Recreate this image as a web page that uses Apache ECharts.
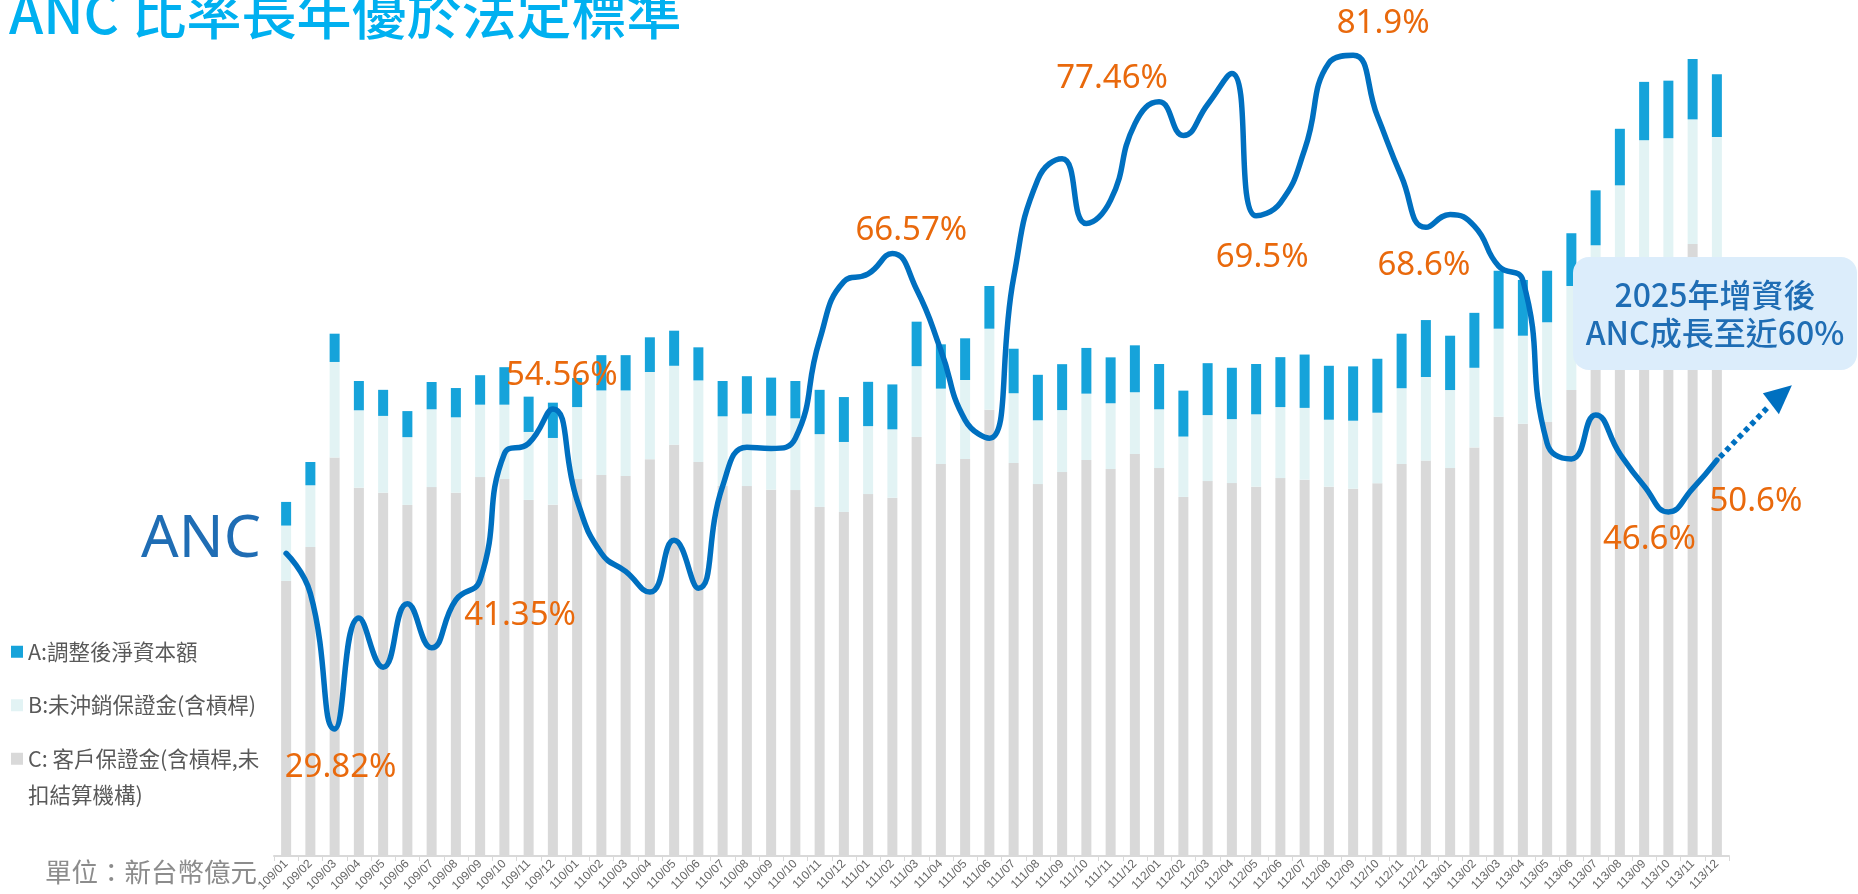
<!DOCTYPE html>
<html>
<head>
<meta charset="utf-8">
<title>ANC 比率長年優於法定標準</title>
<script src="https://cdn.jsdelivr.net/npm/echarts@6/dist/echarts.min.js"></script>
<style>
  html, body { margin: 0; padding: 0; background: #fff; }
  #chart { width: 1858px; height: 894px; }
</style>
</head>
<body>
<div id="chart"></div>
<script>
// 月份 (民國年/月)
var months = [
  '109/01','109/02','109/03','109/04','109/05','109/06','109/07','109/08','109/09','109/10','109/11','109/12',
  '110/01','110/02','110/03','110/04','110/05','110/06','110/07','110/08','110/09','110/10','110/11','110/12',
  '111/01','111/02','111/03','111/04','111/05','111/06','111/07','111/08','111/09','111/10','111/11','111/12',
  '112/01','112/02','112/03','112/04','112/05','112/06','112/07','112/08','112/09','112/10','112/11','112/12',
  '113/01','113/02','113/03','113/04','113/05','113/06','113/07','113/08','113/09','113/10','113/11','113/12'
];

// A:調整後淨資本額 (億元)
var capitalA = [
  11.8, 11.6, 14.1, 14.6, 13.0, 13.0, 13.6, 14.6, 14.7, 18.7, 17.6, 17.6,
  14.5, 17.6, 17.6, 17.3, 17.5, 16.5, 17.6, 18.7, 19.0, 18.6, 22.1, 22.4,
  22.1, 22.4, 22.2, 22.1, 20.8, 21.3, 22.2, 22.7, 22.9, 22.8, 22.9, 23.4,
  22.6, 22.9, 25.9, 25.6, 25.1, 24.9, 26.6, 26.9, 27.1, 26.9, 27.2, 28.4,
  27.1, 27.4, 28.9, 27.8, 25.7, 26.3, 27.4, 28.2, 29.1, 28.7, 30.1, 31.3
];

// B:未沖銷保證金(含槓桿)
var marginB = [
  27.6, 30.8, 47.7, 38.6, 38.3, 33.8, 38.8, 37.6, 36.1, 37.1, 33.9, 33.3,
  35.9, 42.2, 42.7, 43.5, 39.4, 40.7, 34.8, 36.1, 36.9, 35.8, 36.3, 34.9,
  33.9, 34.1, 35.3, 37.6, 39.4, 40.4, 34.8, 31.8, 30.9, 33.1, 32.8, 30.8,
  29.3, 30.1, 32.9, 31.9, 36.1, 35.4, 35.8, 33.4, 33.9, 35.2, 37.8, 41.7,
  38.9, 39.7, 43.9, 43.9, 49.7, 51.9, 54.6, 58.5, 62.0, 62.0, 62.2, 62.6
];

// C: 客戶保證金(含槓桿,未扣結算機構)
var depositC = [
  137.2, 154.1, 198.7, 183.7, 181.2, 175.1, 184.0, 181.2, 189.0, 188.0, 177.6, 175.2,
  188.0, 190.0, 189.5, 197.9, 205.1, 196.5, 184.5, 184.5, 182.7, 182.5, 174.1, 171.6,
  180.5, 178.7, 209.0, 195.5, 198.0, 222.6, 196.0, 185.5, 191.5, 197.5, 193.0, 200.5,
  193.5, 179.1, 187.0, 186.0, 184.2, 188.5, 187.7, 184.2, 183.2, 185.9, 195.5, 197.2,
  193.5, 203.8, 219.1, 215.6, 216.5, 232.4, 250.0, 276.0, 295.0, 296.0, 305.2, 296.0
];

// ANC 比率 (%)
var ancRatio = [
  43.4, 40.3, 29.82, 38.4, 34.6, 39.5, 36.1, 39.8, 41.35, 51.1, 51.9, 54.56,
  47.5, 43.4, 42.0, 40.4, 44.4, 40.7, 48.6, 51.6, 51.5, 52.3, 59.9, 64.4,
  65.0, 66.57, 63.8, 59.1, 53.7, 52.3, 64.7, 72.3, 73.9, 68.9, 70.7, 76.6,
  78.3, 75.7, 78.1, 80.5, 69.5, 70.5, 74.6, 81.3, 81.9, 77.2, 72.5, 68.6,
  69.6, 68.7, 65.6, 64.5, 51.9, 50.7, 54.1, 51.1, 48.6, 46.6, 48.4, 50.6
];

// 標註
var noteMonths = ['109/03', '109/09', '109/12', '111/02', '111/09', '112/05', '112/09', '112/12', '113/10', '113/12'];
var noteValues = [29.82, 41.35, 54.56, 66.57, 77.46, 69.5, 81.9, 68.6, 46.6, 50.6];
var noteOffsets = [[6, 39], [40, 36], [9, -33], [19, -23], [50, -34], [6, 42], [30, -32], [-2, 38], [-19, 28], [39, 41]];

var nameA = 'A:調整後淨資本額';
var nameB = 'B:未沖銷保證金(含槓桿)';
var nameC = 'C: 客戶保證金(含槓桿,未扣結算機構)';

var cjk = '"Noto Sans CJK TC", "Noto Sans", sans-serif';
var orange = '#e9690c';

var myChart = echarts.init(document.getElementById('chart'));

var option = {
    animation: false,
    backgroundColor: '#fff',
    grid: {
        left: 274,
        right: 129,
        top: 54,
        bottom: 38,
        outerBoundsMode: 'none'
    },
    legend: {
        orient: 'vertical',
        left: 11,
        top: 641,
        padding: 0,
        itemWidth: 12,
        itemHeight: 12,
        itemGap: 32,
        icon: 'rect',
        data: [nameA, nameB, nameC],
        formatter: function (name) {
            return name === nameC ? 'C: 客戶保證金(含槓桿,未' : name;
        },
        textStyle: {
            color: '#595959',
            fontSize: 21.5,
            lineHeight: 21,
            fontFamily: cjk
        }
    },
    xAxis: {
        type: 'category',
        data: months,
        axisLine: { lineStyle: { color: '#d9d9d9', width: 2 } },
        axisTick: { show: true, interval: 0, length: 5, lineStyle: { color: '#d9d9d9' } },
        axisLabel: {
            interval: 0,
            rotate: 45,
            fontSize: 12,
            margin: 6,
            color: '#666666',
            fontFamily: '"Liberation Sans", sans-serif'
        }
    },
    yAxis: [
        { type: 'value', min: 0, max: 400, show: false },
        { type: 'value', min: 20, max: 82, show: false }
    ],
    series: [
        {
            name: nameC,
            type: 'bar',
            stack: 'total',
            barWidth: 10,
            itemStyle: { color: '#d9d9d9' },
            data: depositC
        },
        {
            name: nameB,
            type: 'bar',
            stack: 'total',
            barWidth: 10,
            itemStyle: { color: '#e2f3f4' },
            data: marginB
        },
        {
            name: nameA,
            type: 'bar',
            stack: 'total',
            barWidth: 10,
            itemStyle: { color: '#16a3da' },
            data: capitalA
        },
        {
            name: 'ANC',
            type: 'line',
            yAxisIndex: 1,
            smooth: 0.5,
            symbol: 'none',
            z: 5,
            lineStyle: { color: '#0070c0', width: 5.5, cap: 'round', join: 'round' },
            data: ancRatio,
            markPoint: {
                symbol: 'circle',
                symbolSize: 1,
                itemStyle: { color: 'rgba(0,0,0,0)' },
                label: {
                    show: true,
                    position: 'inside',
                    color: orange,
                    fontSize: 33,
                    fontFamily: '"Noto Sans", sans-serif',
                    formatter: function (p) { return p.value + '%'; }
                },
                data: noteMonths.map(function (m, i) {
                    return {
                        coord: [months.indexOf(m), noteValues[i]],
                        value: noteValues[i],
                        label: { offset: noteOffsets[i] }
                    };
                })
            }
        }
    ]
};

myChart.setOption(option);

// 右側虛線箭頭,從最後一點延伸
var last = myChart.convertToPixel({ xAxisIndex: 0, yAxisIndex: 1 }, [months.length - 1, ancRatio[ancRatio.length - 1]]);
var lx = last[0], ly = last[1];

myChart.setOption({
    graphic: [
        {
            type: 'text',
            left: 9,
            top: -14,
            z: 10,
            style: {
                text: 'ANC 比率長年優於法定標準',
                fill: '#00b0f0',
                font: '500 55px ' + cjk
            }
        },
        {
            type: 'text',
            x: 201,
            y: 540,
            z: 10,
            style: {
                text: 'ANC',
                fill: '#1f6db4',
                font: '59px "Noto Sans", sans-serif',
                align: 'center',
                verticalAlign: 'middle'
            }
        },
        {
            type: 'text',
            x: 28,
            y: 795,
            z: 10,
            style: {
                text: '扣結算機構)',
                fill: '#595959',
                font: '21.5px ' + cjk,
                verticalAlign: 'middle'
            }
        },
        {
            type: 'text',
            x: 45,
            y: 872,
            z: 10,
            style: {
                text: '單位\uFF1A新台幣億元',
                fill: '#8c8c8c',
                font: '26.5px ' + cjk,
                verticalAlign: 'middle'
            }
        },
        {
            type: 'rect',
            z: 20,
            shape: { x: 1573, y: 257, width: 284, height: 113, r: 16 },
            style: { fill: '#dcedfb' }
        },
        {
            type: 'text',
            x: 1715,
            y: 295,
            z: 21,
            style: {
                text: '2025年增資後',
                fill: '#1f6db4',
                font: '500 32px ' + cjk,
                align: 'center',
                verticalAlign: 'middle'
            }
        },
        {
            type: 'text',
            x: 1715,
            y: 333,
            z: 21,
            style: {
                text: 'ANC成長至近60%',
                fill: '#1f6db4',
                font: '500 32px ' + cjk,
                align: 'center',
                verticalAlign: 'middle'
            }
        },
        {
            type: 'line',
            z: 6,
            shape: { x1: lx + 3, y1: ly - 3, x2: lx + 52, y2: ly - 54 },
            style: { stroke: '#0070c0', lineWidth: 5.5, lineDash: [5, 4] }
        },
        {
            type: 'polygon',
            z: 6,
            shape: { points: [[lx + 75, ly - 75], [lx + 46, ly - 67], [lx + 62, ly - 46]] },
            style: { fill: '#0070c0' }
        }
    ]
});
</script>
</body>
</html>
